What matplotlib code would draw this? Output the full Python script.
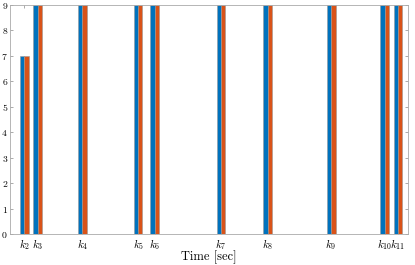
import matplotlib
matplotlib.use('Agg')
import matplotlib.pyplot as plt
import numpy as np

plt.rcParams['mathtext.fontset'] = 'cm'

# event times (arbitrary time units) and the two bar series
times = [3.6, 7.0, 18.2, 32.2, 36.4, 53.0, 64.8, 80.7, 94.2, 97.5]
labels = [r'$k_{%d}$' % i for i in range(2, 12)]
series_a = [7, 9, 9, 9, 9, 9, 9, 9, 9, 9]
series_b = [7, 9, 9, 9, 9, 9, 9, 9, 9, 9]

fig = plt.figure(figsize=(4.15, 2.65), dpi=100)
ax = fig.add_axes([0.024, 0.117, 0.959, 0.865])

w = 1.1
t = np.array(times)
ax.bar(t - w / 2, series_a, width=w, color='#0072BD', edgecolor='#999999', linewidth=0.4)
ax.bar(t + w / 2, series_b, width=w, color='#D95319', edgecolor='#999999', linewidth=0.4)

ax.set_xlim(0, 100)
ax.set_ylim(0, 9)
ax.set_xticks(times)
ax.set_xticklabels(labels, fontsize=8)
ax.set_yticks(range(10))
ax.set_yticklabels([r'$\mathbf{%d}$' % i for i in range(10)], fontsize=7)
ax.tick_params(direction='in', top=True, right=True, length=2.5, width=0.5,
               color='#888888', pad=2)
ax.tick_params(axis='y', pad=1.5)
for s in ax.spines.values():
    s.set_color('#aaaaaa')
    s.set_linewidth(0.6)
ax.set_xlabel('Time [sec]', fontsize=9, fontfamily='cmr10', va='center')
ax.xaxis.set_label_coords(0.5, -0.1)

fig.savefig('out.png', dpi=100)
